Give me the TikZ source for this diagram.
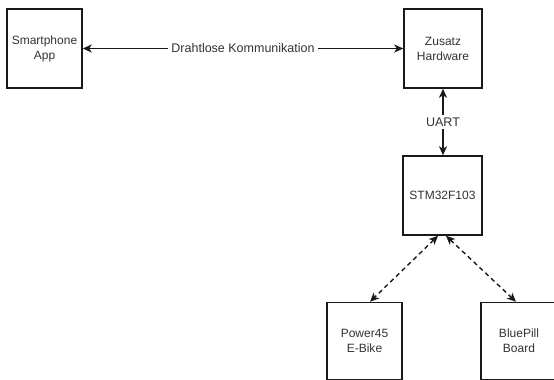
\documentclass[tikz,border=0pt]{standalone}
\usepackage{fontspec}
\setmainfont{Liberation Sans}
\usetikzlibrary{arrows.meta}
\begin{document}
\begin{tikzpicture}[x=1pt,y=-1pt,
  blockbox/.style={draw=black!90,line width=1.5pt,fill=white,text=black!80,
    align=center,font=\fontsize{12}{15}\selectfont,inner sep=0pt},
  link/.style={line width=1.4pt,draw=black!90,
    {Stealth[length=9pt,width=8pt,inset=2.5pt]}-{Stealth[length=9pt,width=8pt,inset=2.5pt]}},
  dashlink/.style={link,dash pattern=on 4.5pt off 3.5pt},
  tag/.style={fill=white,text=black!80,font=\fontsize{12.5}{15}\selectfont,inner sep=3pt}]
  \useasboundingbox (0,0) rectangle (554,380);
  \clip (0,0) rectangle (554,380);
  \fill[white] (0,0) rectangle (554,380);

  % blocks
  \node[blockbox,minimum width=75pt,minimum height=79pt] (app) at (44.5,48.5) {Smartphone\\App};
  \node[blockbox,minimum width=78pt,minimum height=79pt] (hw) at (443,48.5) {Zusatz\\Hardware};
  \node[blockbox,minimum width=79pt,minimum height=79pt] (mcu) at (442.5,195.5) {STM32F103};
  \node[blockbox,minimum width=75pt,minimum height=77pt] (bike) at (364.5,341) {Power45\\E-Bike};
  \node[blockbox,minimum width=76pt,minimum height=77pt] (pill) at (519,341) {BluePill\\Board};

  % connections
  \draw[link] (app.east) -- node[tag] {Drahtlose Kommunikation} (hw.west);
  \draw[link] (hw.south) -- node[tag] {UART} (hw.south |- mcu.north);
  \draw[dashlink] ([xshift=-4.5pt]mcu.south) -- ([xshift=5.5pt]bike.north);
  \draw[dashlink] ([xshift=3.5pt]mcu.south) -- ([xshift=-3pt]pill.north);
\end{tikzpicture}
\end{document}
